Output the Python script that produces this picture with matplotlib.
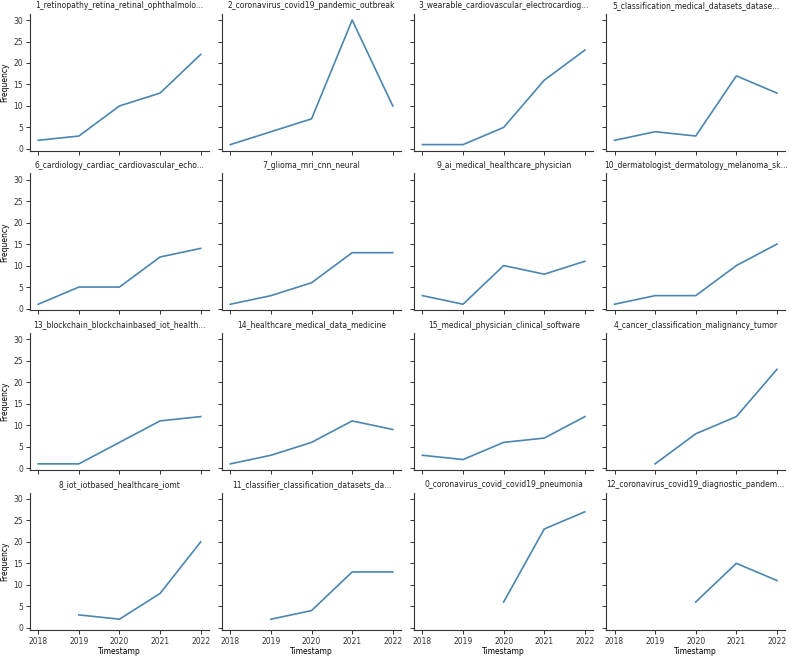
import numpy as np
import matplotlib
matplotlib.use('Agg')
import matplotlib.pyplot as plt

# Topic frequencies per year (NaN = no documents that year)
years = [2018, 2019, 2020, 2021, 2022]
nan = np.nan

topics = [
    '1_retinopathy_retina_retinal_ophthalmolo...',
    '2_coronavirus_covid19_pandemic_outbreak',
    '3_wearable_cardiovascular_electrocardiog...',
    '5_classification_medical_datasets_datase...',
    '6_cardiology_cardiac_cardiovascular_echo...',
    '7_glioma_mri_cnn_neural',
    '9_ai_medical_healthcare_physician',
    '10_dermatologist_dermatology_melanoma_sk...',
    '13_blockchain_blockchainbased_iot_health...',
    '14_healthcare_medical_data_medicine',
    '15_medical_physician_clinical_software',
    '4_cancer_classification_malignancy_tumor',
    '8_iot_iotbased_healthcare_iomt',
    '11_classifier_classification_datasets_da...',
    '0_coronavirus_covid_covid19_pneumonia',
    '12_coronavirus_covid19_diagnostic_pandem...',
]

freq_1 = [2, 3, 10, 13, 22]
freq_2 = [1, 4, 7, 30, 10]
freq_3 = [1, 1, 5, 16, 23]
freq_5 = [2, 4, 3, 17, 13]
freq_6 = [1, 5, 5, 12, 14]
freq_7 = [1, 3, 6, 13, 13]
freq_9 = [3, 1, 10, 8, 11]
freq_10 = [1, 3, 3, 10, 15]
freq_13 = [1, 1, 6, 11, 12]
freq_14 = [1, 3, 6, 11, 9]
freq_15 = [3, 2, 6, 7, 12]
freq_4 = [nan, 1, 8, 12, 23]
freq_8 = [nan, 3, 2, 8, 20]
freq_11 = [nan, 2, 4, 13, 13]
freq_0 = [nan, nan, 6, 23, 27]
freq_12 = [nan, nan, 6, 15, 11]

all_freqs = [freq_1, freq_2, freq_3, freq_5, freq_6, freq_7, freq_9, freq_10,
             freq_13, freq_14, freq_15, freq_4, freq_8, freq_11, freq_0, freq_12]

plt.rcParams['font.family'] = ['DejaVu Sans']
plt.rcParams['font.size'] = 5.5
plt.rcParams['text.color'] = '#222222'

fig, axes = plt.subplots(4, 4, figsize=(7.93, 6.58), dpi=100, sharex=True, sharey=True)
fig.subplots_adjust(left=0.038, right=0.99, top=0.979, bottom=0.043,
                    wspace=0.075, hspace=0.165)

for ax, name, vals in zip(axes.flat, topics, all_freqs):
    ax.plot(years, vals, color='#4a86b0', lw=1.2)
    ax.set_title(name, fontsize=5.5, pad=4)
    ax.spines['top'].set_visible(False)
    ax.spines['right'].set_visible(False)
    for s in ['left', 'bottom']:
        ax.spines[s].set_color('#333333')
        ax.spines[s].set_linewidth(0.8)
    ax.tick_params(labelsize=5.5, length=3, width=0.7, pad=2, colors='#333333')

axes[0, 0].set_xticks(years)
axes[0, 0].set_yticks([0, 5, 10, 15, 20, 25, 30])
for ax in axes[:, 0]:
    ax.set_ylabel('Frequency', fontsize=5.5, labelpad=3)
for ax in axes[-1, :]:
    ax.set_xlabel('Timestamp', fontsize=5.5, labelpad=1)

fig.savefig('out.png', dpi=100)
